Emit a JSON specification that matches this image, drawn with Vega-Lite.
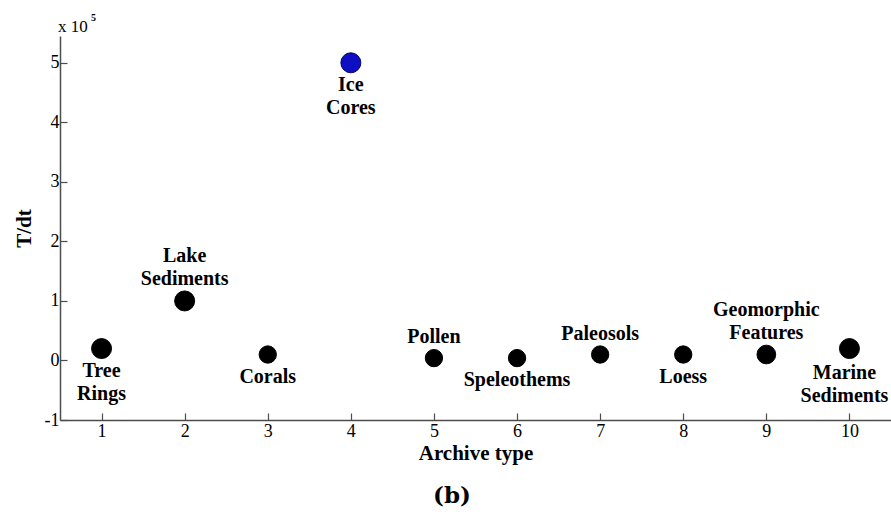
{
  "$schema": "https://vega.github.io/schema/vega-lite/v6.json",
  "width": 831,
  "height": 384,
  "autosize": {"type": "none"},
  "padding": {"left": 60, "top": 36, "right": 0, "bottom": 98},
  "background": "white",
  "title": {
    "text": "(b)",
    "orient": "bottom",
    "anchor": "middle",
    "frame": "bounds",
    "font": "DejaVu Serif",
    "fontSize": 23,
    "fontWeight": "bold",
    "color": "black",
    "offset": 22
  },
  "config": {
    "view": {"stroke": null},
    "axis": {
      "grid": false,
      "domainColor": "#4d4d4d",
      "tickColor": "#4d4d4d",
      "domainWidth": 1.5,
      "tickWidth": 1.2,
      "labelFont": "Liberation Serif",
      "labelFontSize": 18,
      "labelColor": "black",
      "titleFont": "Liberation Serif",
      "titleFontSize": 21,
      "titleFontWeight": "bold",
      "titleColor": "black"
    }
  },
  "data": {
    "values": [
      {"archive": "Tree Rings", "type": 1, "value": 0.2, "weight": 3},
      {"archive": "Lake Sediments", "type": 2, "value": 1.0, "weight": 3},
      {"archive": "Corals", "type": 3, "value": 0.1, "weight": 1},
      {"archive": "Ice Cores", "type": 4, "value": 5.0, "weight": 3},
      {"archive": "Pollen", "type": 5, "value": 0.04, "weight": 1},
      {"archive": "Speleothems", "type": 6, "value": 0.04, "weight": 1},
      {"archive": "Paleosols", "type": 7, "value": 0.1, "weight": 1},
      {"archive": "Loess", "type": 8, "value": 0.1, "weight": 1},
      {"archive": "Geomorphic Features", "type": 9, "value": 0.1, "weight": 2},
      {"archive": "Marine Sediments", "type": 10, "value": 0.2, "weight": 3}
    ]
  },
  "layer": [
    {
      "mark": {"type": "point", "shape": "circle", "filled": true, "opacity": 1, "strokeWidth": 1},
      "encoding": {
        "x": {
          "field": "type",
          "type": "quantitative",
          "scale": {"domain": [0.5, 10.5], "nice": false, "zero": false},
          "axis": {
            "title": "Archive type",
            "values": [1, 2, 3, 4, 5, 6, 7, 8, 9, 10],
            "labelExpr": "'' + datum.value",
            "tickSize": -7,
            "labelPadding": 9,
            "titlePadding": 2
          }
        },
        "y": {
          "field": "value",
          "type": "quantitative",
          "scale": {"domain": [-1, 5.45], "nice": false, "zero": false},
          "axis": {
            "title": "T/dt",
            "values": [-1, 0, 1, 2, 3, 4, 5],
            "labelExpr": "'' + datum.value",
            "tickSize": -7,
            "labelPadding": 8,
            "titlePadding": 10
          }
        },
        "size": {
          "field": "weight",
          "type": "ordinal",
          "scale": {"domain": [1, 2, 3], "range": [300, 400, 620]},
          "legend": null
        },
        "color": {
          "condition": {"test": "datum.archive === 'Ice Cores'", "value": "#0e0ec2"},
          "value": "black"
        },
        "stroke": {
          "condition": {"test": "datum.archive === 'Ice Cores'", "value": "#050560"},
          "value": "black"
        }
      }
    },
    {
      "transform": [
        {"filter": {"field": "archive", "oneOf": ["Tree Rings", "Corals", "Ice Cores", "Speleothems", "Loess"]}}
      ],
      "mark": {
        "type": "text",
        "font": "Liberation Serif",
        "fontSize": 20,
        "fontWeight": "bold",
        "color": "black",
        "align": "center",
        "baseline": "top",
        "lineBreak": " ",
        "lineHeight": 23,
        "dy": 12
      },
      "encoding": {
        "x": {"field": "type", "type": "quantitative"},
        "y": {"field": "value", "type": "quantitative"},
        "text": {"field": "archive"}
      }
    },
    {
      "transform": [
        {"filter": {"field": "archive", "oneOf": ["Marine Sediments"]}}
      ],
      "mark": {
        "type": "text",
        "font": "Liberation Serif",
        "fontSize": 20,
        "fontWeight": "bold",
        "color": "black",
        "align": "center",
        "baseline": "top",
        "lineBreak": " ",
        "lineHeight": 23,
        "dx": -5,
        "dy": 14
      },
      "encoding": {
        "x": {"field": "type", "type": "quantitative"},
        "y": {"field": "value", "type": "quantitative"},
        "text": {"field": "archive"}
      }
    },
    {
      "transform": [
        {"filter": {"field": "archive", "oneOf": ["Pollen", "Paleosols"]}}
      ],
      "mark": {
        "type": "text",
        "font": "Liberation Serif",
        "fontSize": 20,
        "fontWeight": "bold",
        "color": "black",
        "align": "center",
        "baseline": "alphabetic",
        "dy": -15
      },
      "encoding": {
        "x": {"field": "type", "type": "quantitative"},
        "y": {"field": "value", "type": "quantitative"},
        "text": {"field": "archive"}
      }
    },
    {
      "transform": [
        {"filter": {"field": "archive", "oneOf": ["Lake Sediments", "Geomorphic Features"]}}
      ],
      "mark": {
        "type": "text",
        "font": "Liberation Serif",
        "fontSize": 20,
        "fontWeight": "bold",
        "color": "black",
        "align": "center",
        "baseline": "alphabetic",
        "lineBreak": " ",
        "lineHeight": 23,
        "dy": -39
      },
      "encoding": {
        "x": {"field": "type", "type": "quantitative"},
        "y": {"field": "value", "type": "quantitative"},
        "text": {"field": "archive"}
      }
    },
    {
      "data": {"values": [{"multiplier": "x 10", "exponent": "5"}]},
      "layer": [
        {
          "mark": {
            "type": "text",
            "font": "Liberation Serif",
            "fontSize": 17,
            "color": "black",
            "align": "left",
            "baseline": "alphabetic",
            "dx": -2,
            "dy": -4
          },
          "encoding": {
            "x": {"datum": 0.5, "type": "quantitative"},
            "y": {"datum": 5.45, "type": "quantitative"},
            "text": {"field": "multiplier"}
          }
        },
        {
          "mark": {
            "type": "text",
            "font": "Liberation Serif",
            "fontSize": 10,
            "fontWeight": "bold",
            "color": "black",
            "align": "left",
            "baseline": "alphabetic",
            "dx": 31,
            "dy": -15
          },
          "encoding": {
            "x": {"datum": 0.5, "type": "quantitative"},
            "y": {"datum": 5.45, "type": "quantitative"},
            "text": {"field": "exponent"}
          }
        }
      ]
    }
  ]
}
